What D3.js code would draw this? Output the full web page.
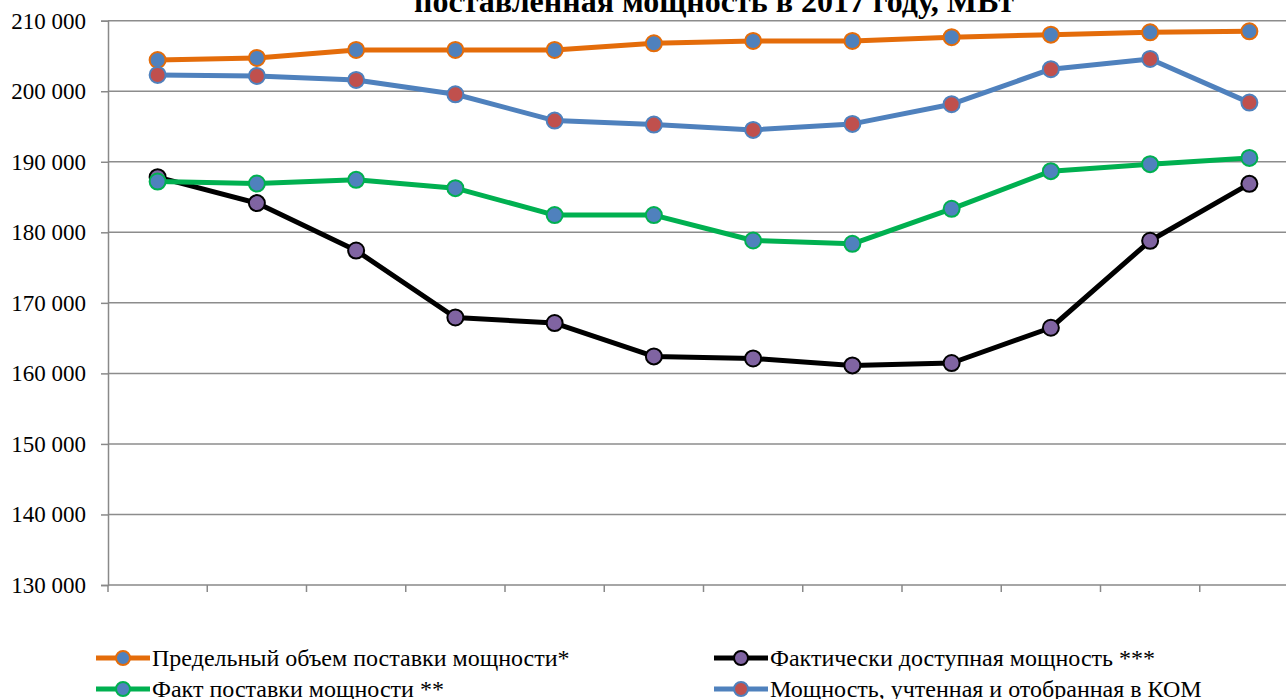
<!DOCTYPE html>
<html>
<head>
<meta charset="utf-8">
<script src="https://cdn.jsdelivr.net/npm/d3@7"></script>
<style>
  body { margin: 0; background: #fff; }
  svg { display: block; }
  svg text { font-family: "Liberation Serif", "DejaVu Serif", serif; fill: #000; }
</style>
</head>
<body>
<svg id="chart" width="1286" height="699"></svg>
<script>
// months of 2017 (no axis labels are shown in the picture)
const months = [1, 2, 3, 4, 5, 6, 7, 8, 9, 10, 11, 12];

const titleText = "поставленная мощность в 2017 году, МВт";

const yTicks = [130000, 140000, 150000, 160000, 170000, 180000, 190000, 200000, 210000];

// Предельный объем поставки мощности*
const limitVolume = [204430, 204720, 205850, 205850, 205850, 206800, 207130, 207130, 207660, 208020, 208360, 208500];
// Фактически доступная мощность ***
const availablePower = [187820, 184140, 177420, 167930, 167140, 162410, 162120, 161130, 161470, 166470, 178800, 186870];
// Факт поставки мощности **
const deliveredPower = [187200, 186910, 187440, 186260, 182440, 182440, 178840, 178370, 183330, 188670, 189660, 190550];
// Мощность, учтенная и отобранная в КОМ
const komPower = [202310, 202170, 201600, 199570, 195840, 195270, 194520, 195370, 198160, 203120, 204580, 198390];

const seriesNames = [
    "Предельный объем поставки мощности*",
    "Фактически доступная мощность ***",
    "Факт поставки мощности **",
    "Мощность, учтенная и отобранная в КОМ"
];

const series = [
    {name: seriesNames[0], values: limitVolume,    line: "#E46C0A", fill: "#4F81BD"},
    {name: seriesNames[1], values: availablePower, line: "#000000", fill: "#8064A2"},
    {name: seriesNames[2], values: deliveredPower, line: "#00B050", fill: "#4F81BD"},
    {name: seriesNames[3], values: komPower,       line: "#4F81BD", fill: "#C0504D"}
];

const svg = d3.select("#chart");

const plotLeft = 108, plotTop = 20.7, plotBottom = 585;
const step = 99.25;
const plotRight = plotLeft + step * months.length;

const x = d3.scaleBand()
    .domain(months)
    .range([plotLeft, plotRight])
    .padding(0);

const y = d3.scaleLinear()
    .domain([130000, 210000])
    .range([plotBottom, plotTop]);

const fmt = d3.formatLocale({decimal: ",", thousands: "\u00a0", grouping: [3], currency: ["", ""]}).format(",d");

// title (top of it is cut off in the original)
svg.append("text")
    .attr("x", 714)
    .attr("y", 12)
    .attr("text-anchor", "middle")
    .style("font-weight", "bold")
    .style("font-size", "32px")
    .text(titleText);

// gridlines
svg.append("g")
    .selectAll("line")
    .data(yTicks.slice(1))
    .enter()
    .append("line")
    .attr("x1", plotLeft)
    .attr("x2", plotRight)
    .attr("y1", d => y(d))
    .attr("y2", d => y(d))
    .attr("stroke", "#8c8c8c")
    .attr("stroke-width", 1.5);

// y axis
let yAxis = svg.append("g")
    .attr("transform", `translate(${plotLeft},0)`)
    .call(d3.axisLeft(y).tickValues(yTicks).tickFormat(fmt).tickSize(7).tickPadding(15))
    .attr("font-family", null)
    .attr("font-size", null);

yAxis.select(".domain").attr("stroke", "#898989").attr("stroke-width", 1.5);
yAxis.selectAll(".tick line").attr("stroke", "#898989").attr("stroke-width", 1.5);
yAxis.selectAll(".tick text")
    .style("font-size", "23px")
    .attr("fill", "#000");

// x axis, ticks between categories, no labels
let xAxis = svg.append("g")
    .attr("transform", `translate(0,${plotBottom})`);

xAxis.append("line")
    .attr("x1", plotLeft)
    .attr("x2", plotRight)
    .attr("stroke", "#898989")
    .attr("stroke-width", 1.5);

xAxis.selectAll("line.tick")
    .data(months)
    .enter()
    .append("line")
    .classed("tick", true)
    .attr("x1", d => x(d))
    .attr("x2", d => x(d))
    .attr("y1", 0)
    .attr("y2", 7)
    .attr("stroke", "#898989")
    .attr("stroke-width", 1.5);

// lines and markers
const line = d3.line()
    .x((d, i) => x(months[i]) + x.bandwidth() / 2)
    .y(d => y(d));

series.forEach(s => {
    let g = svg.append("g");

    g.append("path")
        .attr("d", line(s.values))
        .attr("fill", "none")
        .attr("stroke", s.line)
        .attr("stroke-width", 5)
        .attr("stroke-linejoin", "round");

    g.selectAll("circle")
        .data(s.values)
        .enter()
        .append("circle")
        .attr("cx", (d, i) => x(months[i]) + x.bandwidth() / 2)
        .attr("cy", d => y(d))
        .attr("r", 8)
        .attr("fill", s.fill)
        .attr("stroke", s.line)
        .attr("stroke-width", 2);
});

// legend: two rows, two columns
const legendPos = [
    {x: 123, y: 658},
    {x: 741, y: 658},
    {x: 123, y: 689},
    {x: 741, y: 689}
];

let legend = svg.append("g")
    .selectAll("g")
    .data(series)
    .enter()
    .append("g")
    .attr("transform", (d, i) => `translate(${legendPos[i].x},${legendPos[i].y})`);

legend.append("line")
    .attr("x1", -27)
    .attr("x2", 27)
    .attr("stroke", d => d.line)
    .attr("stroke-width", 5);

legend.append("circle")
    .attr("r", 7)
    .attr("fill", d => d.fill)
    .attr("stroke", d => d.line)
    .attr("stroke-width", 2);

legend.append("text")
    .attr("x", 29)
    .attr("dy", "0.35em")
    .style("font-size", "24px")
    .text(d => d.name);
</script>
</body>
</html>
